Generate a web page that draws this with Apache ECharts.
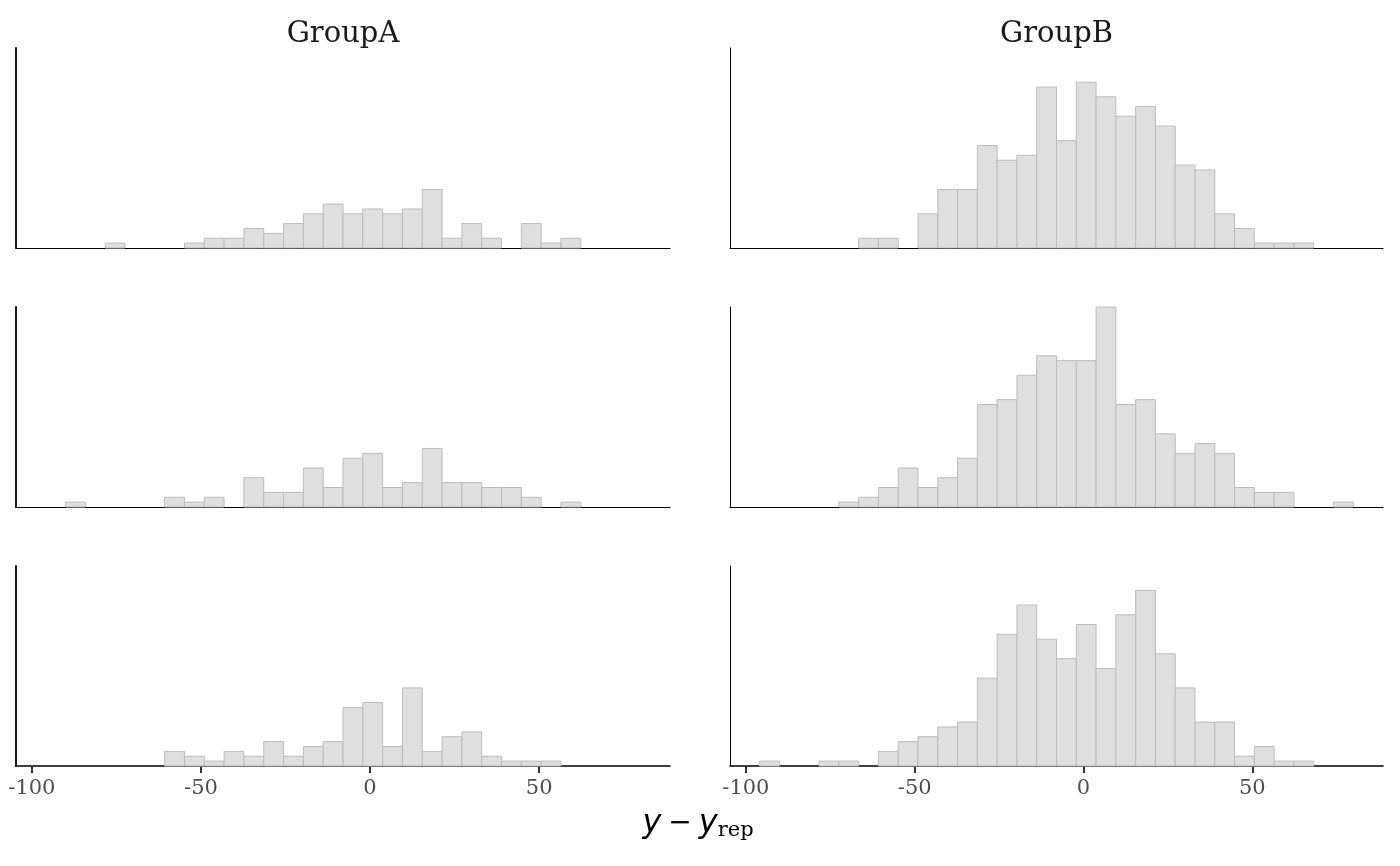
<!DOCTYPE html>
<html lang="en">
<head>
    <meta charset="UTF-8">
    <script src="https://cdn.jsdelivr.net/npm/echarts@6.0.0/dist/echarts.min.js"></script>
    <title>Error histograms</title>
    <style>
        html, body { margin: 0; padding: 0; background: #fff; }
        #main { width: 1400px; height: 866px; }
    </style>
</head>
<body>
    <div id="main"></div>
<script type="text/javascript">
    // histogram bins (30 bins shared by every panel)
    var binStart = -95.9;
    var binWidth = 5.86;
    var xMin = -104.7;
    var xMax = 88.7;
    var xTicks = [-100, -50, 0, 50];
    var groups = ['GroupA', 'GroupB'];

    // counts per bin, one array per panel (row 1..3)
    var countsA1 = [0,0,0,1,0,0,0,1,2,2,4,3,5,7,9,7,8,7,8,12,2,5,2,0,5,1,2,0,0,0];
    var countsA2 = [0,1,0,0,0,0,2,1,2,0,6,3,3,8,4,10,11,4,5,12,5,5,4,4,2,0,1,0,0,0];
    var countsA3 = [0,0,0,0,0,0,3,2,1,3,2,5,2,4,5,12,13,4,16,3,6,7,2,1,1,1,0,0,0,0];
    var countsB1 = [0,0,0,0,0,2,2,0,7,12,12,21,18,19,33,22,34,31,27,29,25,17,16,7,4,1,1,1,0,0];
    var countsB2 = [0,0,0,0,1,2,4,8,4,6,10,21,22,27,31,30,30,41,21,22,15,11,13,11,4,3,3,0,0,1];
    var countsB3 = [1,0,0,1,1,0,3,5,6,8,9,18,27,33,26,22,29,20,31,36,23,16,9,9,2,4,1,1,0,0];

    var panels = [
        { col: 0, row: 0, counts: countsA1 },
        { col: 1, row: 0, counts: countsB1 },
        { col: 0, row: 1, counts: countsA2 },
        { col: 1, row: 1, counts: countsB2 },
        { col: 0, row: 2, counts: countsA3 },
        { col: 1, row: 2, counts: countsB3 }
    ];

    var yMax = 0;
    panels.forEach(function (p) {
        p.counts.forEach(function (c) { if (c > yMax) yMax = c; });
    });

    var colLeft = [16, 730];
    var colWidth = [654, 653];
    var rowTop = [48, 307, 566];
    var rowHeight = 200;

    function renderBar(params, api) {
        var lo = api.coord([api.value(0), 0]);
        var hi = api.coord([api.value(1), api.value(2)]);
        return {
            type: 'rect',
            shape: { x: lo[0], y: hi[1], width: hi[0] - lo[0], height: lo[1] - hi[1] },
            style: { fill: '#dfdfdf', stroke: '#bdbdbd', lineWidth: 1 }
        };
    }

    var grid = [], xAxis = [], yAxis = [], series = [];
    panels.forEach(function (p, i) {
        var bottomRow = p.row === 2;
        grid.push({
            left: colLeft[p.col], top: rowTop[p.row],
            width: colWidth[p.col], height: rowHeight
        });
        xAxis.push({
            type: 'value', gridIndex: i, min: xMin, max: xMax,
            splitLine: { show: false },
            axisLine: { show: true, onZero: false, lineStyle: { color: '#000', width: bottomRow ? 1.6 : 1 } },
            axisTick: {
                show: bottomRow, customValues: xTicks, length: 7,
                lineStyle: { color: '#333', width: 2 }
            },
            axisLabel: {
                show: bottomRow, customValues: xTicks, margin: 12,
                color: '#4d4d4d', fontSize: 21, fontFamily: 'DejaVu Serif'
            }
        });
        yAxis.push({
            type: 'value', gridIndex: i, min: 0, max: yMax,
            splitLine: { show: false },
            axisLine: { show: true, onZero: false, lineStyle: { color: '#000', width: p.col === 0 ? 1.8 : 1 } },
            axisTick: { show: false },
            axisLabel: { show: false }
        });
        var data = [];
        p.counts.forEach(function (c, k) {
            if (c > 0) data.push([binStart + k * binWidth, binStart + (k + 1) * binWidth, c]);
        });
        series.push({
            type: 'custom', xAxisIndex: i, yAxisIndex: i,
            renderItem: renderBar, data: data, silent: true
        });
    });

    var graphic = groups.map(function (g, c) {
        return {
            type: 'text', x: colLeft[c] + colWidth[c] / 2, y: 34,
            style: {
                text: g, align: 'center', verticalAlign: 'middle',
                fill: '#1a1a1a', font: '29px "DejaVu Serif"'
            }
        };
    });
    graphic.push({
        type: 'text', x: 698, y: 824,
        style: {
            text: '{i|y}{m|\u2212}{i|y}{s|rep}',
            align: 'center', verticalAlign: 'middle',
            rich: {
                i: { fontStyle: 'italic', fontSize: 32, fontFamily: 'DejaVu Sans', fill: '#000' },
                m: { fontSize: 28, fontFamily: 'DejaVu Sans', fill: '#000', padding: [0, 7, 0, 7] },
                s: { fontSize: 21, fontFamily: 'DejaVu Serif', fill: '#000', padding: [14, 0, 0, 0] }
            }
        }
    });

    var chart = echarts.init(document.getElementById('main'));
    chart.setOption({
        animation: false,
        grid: grid,
        xAxis: xAxis,
        yAxis: yAxis,
        series: series,
        graphic: graphic
    });
</script>
</body>
</html>
